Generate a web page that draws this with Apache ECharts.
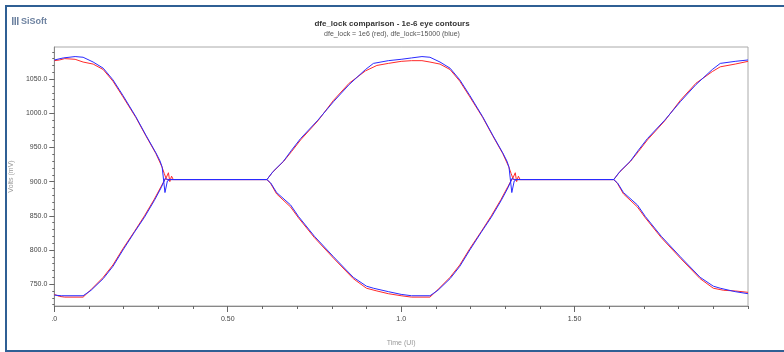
<!DOCTYPE html>
<html>
<head>
<meta charset="utf-8">
<script src="https://cdn.jsdelivr.net/npm/echarts@6/dist/echarts.min.js"></script>
<style>
  html, body { margin: 0; padding: 0; background: #fff; }
  #eyeChart { width: 784px; height: 352px; }
</style>
</head>
<body>
<div id="eyeChart"></div>
<script>
// eye contour points, [time (UI), volts (mV)]
const redUpper = [
  [0, 1077], [0.015, 1078], [0.03, 1080], [0.06, 1079], [0.083, 1075], [0.112, 1072], [0.141, 1064], [0.169, 1047],
  [0.198, 1024], [0.235, 994], [0.264, 967], [0.293, 941], [0.31, 922], [0.317, 912], [0.322, 905], [0.329, 913],
  [0.333, 900], [0.338, 908], [0.343, 903], [0.613, 903],
  [0.628, 913], [0.66, 929], [0.684, 944], [0.71, 961], [0.76, 989], [0.805, 1019], [0.85, 1044], [0.897, 1062],
  [0.93, 1070], [0.963, 1073], [1.0, 1076], [1.03, 1077], [1.06, 1077], [1.083, 1075], [1.112, 1072], [1.141, 1064],
  [1.169, 1047], [1.198, 1024], [1.235, 994], [1.264, 967], [1.293, 941], [1.31, 922], [1.317, 912], [1.322, 905],
  [1.329, 913], [1.333, 900], [1.338, 908], [1.343, 903], [1.613, 903],
  [1.628, 913], [1.66, 929], [1.684, 944], [1.71, 961], [1.76, 989], [1.805, 1019], [1.85, 1044], [1.897, 1061],
  [1.92, 1068], [1.963, 1072], [2.0, 1076]
]
const redLower = [
  [0, 735], [0.015, 732], [0.03, 731], [0.083, 731], [0.106, 742], [0.141, 760], [0.169, 778], [0.198, 802],
  [0.231, 827], [0.26, 850], [0.288, 874], [0.308, 893], [0.32, 904], [0.33, 903], [0.613, 903],
  [0.624, 897], [0.641, 882], [0.681, 863], [0.704, 847], [0.75, 818], [0.805, 788], [0.862, 758], [0.9, 744],
  [0.93, 740], [0.963, 736], [1.0, 733], [1.03, 731], [1.083, 731], [1.106, 742], [1.141, 760], [1.169, 778],
  [1.198, 802], [1.231, 827], [1.26, 850], [1.288, 874], [1.308, 893], [1.32, 904], [1.33, 903], [1.613, 903],
  [1.624, 897], [1.641, 882], [1.681, 863], [1.704, 847], [1.75, 818], [1.805, 788], [1.862, 758], [1.9, 744],
  [1.93, 741], [1.963, 740], [2.0, 738]
]
const blueUpper = [
  [0, 1078], [0.026, 1081], [0.06, 1083], [0.083, 1082], [0.112, 1075], [0.141, 1066], [0.169, 1049], [0.198, 1026],
  [0.235, 995], [0.264, 968], [0.293, 942], [0.305, 930], [0.311, 921], [0.319, 884], [0.326, 901], [0.333, 903],
  [0.613, 903],
  [0.631, 915], [0.661, 930], [0.684, 946], [0.71, 963], [0.76, 990], [0.805, 1017], [0.85, 1042], [0.897, 1064],
  [0.92, 1073], [0.963, 1077], [1.0, 1079], [1.03, 1081], [1.06, 1083], [1.083, 1082], [1.112, 1075], [1.141, 1066],
  [1.169, 1049], [1.198, 1026], [1.235, 995], [1.264, 968], [1.293, 942], [1.305, 930], [1.311, 921], [1.319, 884],
  [1.326, 901], [1.333, 903], [1.613, 903],
  [1.631, 915], [1.661, 930], [1.684, 946], [1.71, 963], [1.76, 990], [1.805, 1017], [1.85, 1042], [1.897, 1064],
  [1.92, 1073], [1.963, 1076], [2.0, 1078]
]
const blueLower = [
  [0, 734], [0.02, 733], [0.083, 733], [0.106, 741], [0.141, 758], [0.169, 776], [0.198, 800], [0.231, 826],
  [0.26, 848], [0.288, 872], [0.308, 891], [0.32, 905], [0.326, 903], [0.613, 903],
  [0.624, 898], [0.641, 884], [0.681, 866], [0.704, 849], [0.75, 820], [0.805, 790], [0.862, 760], [0.9, 747],
  [0.92, 744], [0.963, 739], [1.0, 735], [1.03, 733], [1.083, 733], [1.106, 741], [1.141, 758], [1.169, 776],
  [1.198, 800], [1.231, 826], [1.26, 848], [1.288, 872], [1.308, 891], [1.32, 905], [1.326, 903], [1.613, 903],
  [1.624, 898], [1.641, 884], [1.681, 866], [1.704, 849], [1.75, 820], [1.805, 790], [1.862, 760], [1.9, 747],
  [1.92, 744], [1.963, 739], [2.0, 736]
]
const xLabelValues = [0, 0.5, 1.0, 1.5]
const xLabelTexts = ['.0', '0.50', '1.0', '1.50']
const yLabelValues = [750, 800, 850, 900, 950, 1000, 1050]

const font = 'Liberation Sans, Arial, sans-serif'
const yMinor = []
for (let v = 720; v <= 1090; v += 10) yMinor.push(v)

const myChart = echarts.init(document.getElementById('eyeChart'))

function lineSeries (name, data, color) {
  return {
    name,
    type: 'line',
    data,
    showSymbol: false,
    animation: false,
    lineStyle: { color, width: 1 },
    itemStyle: { color }
  }
}

myChart.setOption({
  backgroundColor: '#fff',
  title: {
    text: 'dfe_lock comparison - 1e-6 eye contours',
    subtext: 'dfe_lock = 1e6 (red), dfe_lock=15000 (blue)',
    left: 'center',
    top: 15,
    itemGap: 3,
    textStyle: { fontFamily: font, fontSize: 8, fontWeight: 'bold', color: '#333' },
    subtextStyle: { fontFamily: font, fontSize: 7, color: '#555' }
  },
  grid: {
    left: 51,
    right: 36,
    top: 47,
    bottom: 43,
    show: true,
    borderColor: '#aaa',
    borderWidth: 1,
    backgroundColor: '#fff'
  },
  xAxis: [{
    type: 'value',
    min: 0,
    max: 2,
    interval: 0.1,
    name: 'Time (UI)',
    nameLocation: 'middle',
    nameGap: 34,
    nameTextStyle: { fontFamily: font, fontSize: 7, color: '#999' },
    axisLine: { lineStyle: { color: '#888' } },
    axisTick: { length: 3, lineStyle: { color: '#666' } },
    axisLabel: {
      customValues: xLabelValues,
      formatter: v => xLabelTexts[xLabelValues.indexOf(v)],
      fontFamily: font,
      fontSize: 7,
      color: '#444',
      margin: 10
    },
    splitLine: { show: false }
  }, {
    // longer ticks at the labelled positions
    type: 'value',
    position: 'bottom',
    min: 0,
    max: 2,
    axisLine: { show: false },
    axisTick: { customValues: xLabelValues, length: 6, lineStyle: { color: '#666' } },
    axisLabel: { show: false },
    splitLine: { show: false }
  }],
  yAxis: [{
    type: 'value',
    min: 718,
    max: 1097,
    name: 'Volts (mV)',
    nameLocation: 'middle',
    nameRotate: 90,
    nameGap: 36,
    nameTextStyle: { fontFamily: font, fontSize: 7, color: '#999' },
    axisLine: { show: true, lineStyle: { color: '#888' } },
    axisTick: { customValues: yMinor, length: 2, lineStyle: { color: '#666' } },
    axisLabel: {
      customValues: yLabelValues,
      formatter: v => v.toFixed(1),
      fontFamily: font,
      fontSize: 7,
      color: '#444',
      margin: 7
    },
    splitLine: { show: false }
  }, {
    type: 'value',
    position: 'left',
    min: 718,
    max: 1097,
    axisLine: { show: false },
    axisTick: { show: true, customValues: yLabelValues, length: 5, lineStyle: { color: '#666' } },
    axisLabel: { show: false },
    splitLine: { show: false }
  }],
  graphic: [{
    type: 'rect',
    shape: { x: 6, y: 6, width: 800, height: 345 },
    style: { fill: 'none', stroke: '#2f5f94', lineWidth: 2 },
    silent: true
  }, {
    type: 'group',
    left: 12,
    top: 17,
    children: [
      { type: 'rect', shape: { x: 0, y: 0, width: 1.5, height: 8 }, style: { fill: '#6d82a0' } },
      { type: 'rect', shape: { x: 2.5, y: 0, width: 1.5, height: 8 }, style: { fill: '#6d82a0' } },
      { type: 'rect', shape: { x: 5, y: 0, width: 1.5, height: 8 }, style: { fill: '#6d82a0' } },
      {
        type: 'text',
        x: 9,
        y: 0,
        style: { text: 'SiSoft', fontFamily: font, fontSize: 9, fontWeight: 'bold', fill: '#6d82a0' }
      }
    ]
  }],
  series: [
    lineSeries('red upper', redUpper, '#ff2a2a'),
    lineSeries('red lower', redLower, '#ff2a2a'),
    lineSeries('blue upper', blueUpper, '#2a2aff'),
    lineSeries('blue lower', blueLower, '#2a2aff')
  ]
})
</script>
</body>
</html>
